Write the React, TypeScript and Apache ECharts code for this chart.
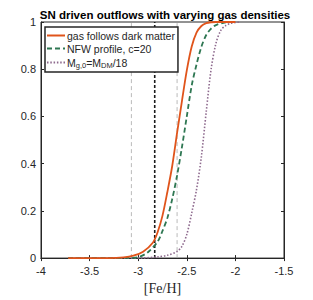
import React, { useEffect, useRef } from "react";
import * as echarts from "echarts";

const titleText = "SN driven outflows with varying gas densities";
const xTicks = [-4, -3.5, -3, -2.5, -2, -1.5];
const yTicks = [0, 0.2, 0.4, 0.6, 0.8, 1];

const seriesNames = ["gas follows dark matter", "NFW profile, c=20", "Mg0"];

const dmX = [-3.72, -3.3, -3.15, -3.05, -2.95, -2.85, -2.8, -2.75, -2.7, -2.65, -2.6, -2.55, -2.5, -2.45, -2.4, -2.35, -2.3, -2.25, -2.2, -2.0];
const dmY = [0, 0, 0.003, 0.01, 0.027, 0.065, 0.11, 0.18, 0.28, 0.39, 0.53, 0.665, 0.795, 0.895, 0.955, 0.983, 0.995, 0.999, 1, 1];

const nfwX = [-3.72, -3.3, -3.1, -3.0, -2.9, -2.8, -2.75, -2.7, -2.65, -2.6, -2.55, -2.5, -2.45, -2.4, -2.35, -2.3, -2.25, -2.2, -2.1, -2.0];
const nfwY = [0, 0, 0.001, 0.004, 0.025, 0.07, 0.115, 0.17, 0.25, 0.35, 0.47, 0.6, 0.73, 0.82, 0.895, 0.945, 0.972, 0.987, 0.998, 1];

const mgX = [-3.72, -3.2, -2.95, -2.8, -2.7, -2.6, -2.55, -2.5, -2.45, -2.4, -2.35, -2.3, -2.25, -2.2, -2.15, -2.1, -2.05, -2.0, -1.95];
const mgY = [0, 0, 0.001, 0.005, 0.012, 0.028, 0.05, 0.1, 0.19, 0.29, 0.43, 0.62, 0.8, 0.91, 0.965, 0.985, 0.994, 0.998, 1];

const grayLinesX = [-3.07, -2.6];
const blackLineX = -2.83;

const zip = (xs: number[], ys: number[]) => xs.map((x, i) => [x, ys[i]]);

export default function App() {
  const ref = useRef<HTMLDivElement>(null);
  useEffect(() => {
    document.body.style.margin = "0";
    const chart = echarts.init(ref.current!, null, { renderer: "svg" });
    const axisColor = "#262626";
    const font = "Liberation Sans, Arial, sans-serif";
    const vline = (x: number, color: string, width: number, dash: number[]) => ({
      type: "line",
      data: [[x, 0], [x, 1]],
      symbol: "none",
      silent: true,
      z: 1,
      lineStyle: { color, width, type: dash },
    });
    chart.setOption({
      animation: false,
      backgroundColor: "#fff",
      title: {
        text: titleText,
        left: 160,
        textAlign: "center",
        top: 4,
        textStyle: { fontSize: 11.5, fontWeight: "bold", color: "#000", fontFamily: font },
      },
      grid: { left: 41, right: 29, top: 22, bottom: 37, show: true, borderColor: axisColor, borderWidth: 1, backgroundColor: "transparent" },
      legend: {
        data: seriesNames,
        orient: "vertical",
        left: 45,
        top: 27,
        padding: [3, 3, 3, 1],
        itemGap: 2,
        itemWidth: 18,
        itemHeight: 10,
        backgroundColor: "#fff",
        borderColor: axisColor,
        borderWidth: 1.5,
        borderRadius: 0,
        itemStyle: { opacity: 0 },
        formatter: (name: string) =>
          name === "Mg0" ? "{n|M}{s|g,0}{n|=M}{s|DM}{n|/18}" : "{n|" + name + "}",
        textStyle: {
          fontFamily: font,
          color: axisColor,
          padding: [0, 0, 0, -3],
          rich: {
            n: { fontSize: 10.5, fontFamily: font, color: axisColor, lineHeight: 13 },
            s: { fontSize: 7.5, fontFamily: font, color: axisColor, verticalAlign: "bottom", lineHeight: 8, padding: [5, 0, 0, 0] },
          },
        },
      },
      xAxis: [
        {
          type: "value",
          min: -4,
          max: -1.5,
          interval: 0.5,
          axisLine: { show: true, lineStyle: { color: axisColor, width: 1 } },
          axisTick: { show: true, inside: true, length: 3, lineStyle: { color: axisColor } },
          splitLine: { show: false },
          axisLabel: { color: axisColor, fontSize: 11, fontFamily: font, margin: 7, formatter: (v: number) => String(v) },
          name: "[Fe/H]",
          nameLocation: "middle",
          nameGap: 20,
          nameTextStyle: { fontFamily: "Liberation Serif, DejaVu Serif, serif", fontSize: 14, color: axisColor },
        },
        {
          type: "value",
          position: "top",
          min: -4,
          max: -1.5,
          interval: 0.5,
          axisLine: { show: true, lineStyle: { color: axisColor, width: 1 } },
          axisTick: { show: true, inside: true, length: 3, lineStyle: { color: axisColor } },
          splitLine: { show: false },
          axisLabel: { show: false },
        },
      ],
      yAxis: [
        {
          type: "value",
          min: 0,
          max: 1,
          interval: 0.2,
          axisLine: { show: true, lineStyle: { color: axisColor, width: 1 } },
          axisTick: { show: true, inside: true, length: 3, lineStyle: { color: axisColor } },
          splitLine: { show: false },
          axisLabel: {
            color: axisColor,
            fontSize: 11,
            fontFamily: font,
            margin: 5,
            formatter: (v: number) => (yTicks.indexOf(Math.round(v * 10) / 10) >= 0 ? String(Math.round(v * 10) / 10) : ""),
          },
        },
        {
          type: "value",
          position: "right",
          min: 0,
          max: 1,
          interval: 0.2,
          axisLine: { show: true, lineStyle: { color: axisColor, width: 1 } },
          axisTick: { show: true, inside: true, length: 3, lineStyle: { color: axisColor } },
          splitLine: { show: false },
          axisLabel: { show: false },
        },
      ],
      series: [
        vline(grayLinesX[0], "#aaaaaa", 0.8, [4, 3]),
        vline(grayLinesX[1], "#aaaaaa", 0.8, [4, 3]),
        vline(blackLineX, "#1a1a1a", 1.6, [3, 2]),
        {
          name: seriesNames[0],
          type: "line",
          data: zip(dmX, dmY),
          symbol: "none",
          smooth: 0.3,
          z: 5,
          lineStyle: { color: "#e0541b", width: 1.8, type: "solid" },
          itemStyle: { color: "#e0541b" },
        },
        {
          name: seriesNames[1],
          type: "line",
          data: zip(nfwX, nfwY),
          symbol: "none",
          smooth: 0.3,
          z: 4,
          lineStyle: { color: "#2e7752", width: 1.8, type: [5, 3] },
          itemStyle: { color: "#2e7752" },
        },
        {
          name: seriesNames[2],
          type: "line",
          data: zip(mgX, mgY),
          symbol: "none",
          smooth: 0.3,
          z: 3,
          lineStyle: { color: "#8e6a8e", width: 1.6, type: [1.5, 1.8] },
          itemStyle: { color: "#8e6a8e" },
        },
      ],
    });
    return () => chart.dispose();
  }, []);
  return <div ref={ref} style={{ width: 313, height: 300 }} />;
}
